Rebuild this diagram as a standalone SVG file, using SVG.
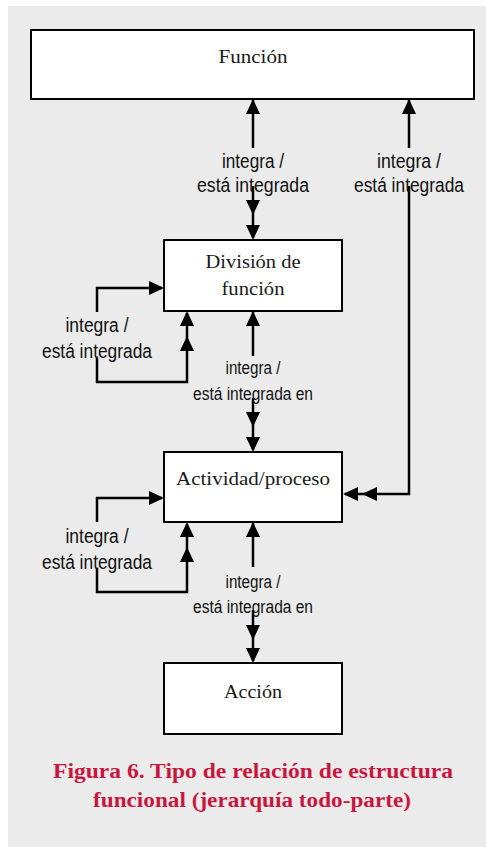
<svg xmlns="http://www.w3.org/2000/svg" width="486" height="847" viewBox="0 0 486 847">
<style>
.box{fill:#fff;stroke:#000;stroke-width:2}
.nt{font-family:"Liberation Serif",serif;font-size:19px;fill:#1a1a1a;text-anchor:middle}
.lbl{font-family:"Liberation Sans",Arial,sans-serif;font-size:20px;fill:#111;text-anchor:middle}
.lbs{font-family:"Liberation Sans",Arial,sans-serif;font-size:17.5px;fill:#111;text-anchor:middle}
.cn{fill:none;stroke:#000;stroke-width:2.5}
.cap{font-family:"Liberation Serif",serif;font-size:20px;font-weight:bold;fill:#c8173f;text-anchor:middle}
</style>
<defs>
<path id="ah" d="M0,0 L-7,15 L7,15 Z" fill="#000"/>
</defs>
<rect x="0" y="0" width="486" height="847" fill="#fff"/>
<rect x="8" y="6" width="478" height="841" fill="#ebebeb"/>

<g id="connectors">
<path class="cn" d="M253,100 V148 M253,186 V238"/>
<use href="#ah" transform="translate(253,99)"/>
<use href="#ah" transform="translate(253,215) rotate(180)"/>
<use href="#ah" transform="translate(253,240) rotate(180)"/>
<text class="lbl" x="253" y="168" textLength="62" lengthAdjust="spacingAndGlyphs">integra /</text>
<text class="lbl" x="253" y="192" textLength="112" lengthAdjust="spacingAndGlyphs">está integrada</text>

<path class="cn" d="M409,100 V148 M409,186 V494 H345"/>
<use href="#ah" transform="translate(409,99)"/>
<use href="#ah" transform="translate(343,494) rotate(-90)"/>
<use href="#ah" transform="translate(362,494) rotate(-90)"/>
<text class="lbl" x="409" y="168" textLength="64" lengthAdjust="spacingAndGlyphs">integra /</text>
<text class="lbl" x="409" y="192" textLength="110" lengthAdjust="spacingAndGlyphs">está integrada</text>

<path class="cn" d="M162,288 H97 V312 M97,358 V382 H187 V313"/>
<use href="#ah" transform="translate(164,288) rotate(90)"/>
<use href="#ah" transform="translate(187,311)"/>
<use href="#ah" transform="translate(187,336)"/>
<text class="lbl" x="97" y="332" textLength="63" lengthAdjust="spacingAndGlyphs">integra /</text>
<text class="lbl" x="97" y="358" textLength="110" lengthAdjust="spacingAndGlyphs">está integrada</text>

<path class="cn" d="M253,312 V356 M253,398 V450"/>
<use href="#ah" transform="translate(253,311)"/>
<use href="#ah" transform="translate(253,427) rotate(180)"/>
<use href="#ah" transform="translate(253,452) rotate(180)"/>
<text class="lbs" x="253" y="374" textLength="55" lengthAdjust="spacingAndGlyphs">integra /</text>
<text class="lbs" x="253" y="400" textLength="120" lengthAdjust="spacingAndGlyphs">está integrada en</text>

<path class="cn" d="M162,498 H97 V522 M97,568 V592 H187 V524"/>
<use href="#ah" transform="translate(164,498) rotate(90)"/>
<use href="#ah" transform="translate(187,522)"/>
<use href="#ah" transform="translate(187,547)"/>
<text class="lbl" x="97" y="543" textLength="63" lengthAdjust="spacingAndGlyphs">integra /</text>
<text class="lbl" x="97" y="569" textLength="110" lengthAdjust="spacingAndGlyphs">está integrada</text>

<path class="cn" d="M253,523 V567 M253,610 V661"/>
<use href="#ah" transform="translate(253,522)"/>
<use href="#ah" transform="translate(253,640) rotate(180)"/>
<use href="#ah" transform="translate(253,663) rotate(180)"/>
<text class="lbs" x="253" y="588" textLength="55" lengthAdjust="spacingAndGlyphs">integra /</text>
<text class="lbs" x="253" y="613" textLength="120" lengthAdjust="spacingAndGlyphs">está integrada en</text>
</g>

<g id="funcion">
<rect class="box" x="31" y="30" width="443" height="69"/>
<text class="nt" x="253" y="63" textLength="69" lengthAdjust="spacingAndGlyphs">Función</text>
</g>
<g id="division">
<rect class="box" x="164" y="240" width="178" height="71"/>
<text class="nt" x="253" y="268" textLength="95" lengthAdjust="spacingAndGlyphs">División de</text>
<text class="nt" x="253" y="295" textLength="63" lengthAdjust="spacingAndGlyphs">función</text>
</g>
<g id="actividad">
<rect class="box" x="164" y="452" width="178" height="70"/>
<text class="nt" x="253" y="485" textLength="154" lengthAdjust="spacingAndGlyphs">Actividad/proceso</text>
</g>
<g id="accion">
<rect class="box" x="164" y="663" width="178" height="71"/>
<text class="nt" x="253" y="698" textLength="58" lengthAdjust="spacingAndGlyphs">Acción</text>
</g>
<g id="caption">
<text class="cap" x="253" y="778" textLength="400" lengthAdjust="spacingAndGlyphs">Figura 6. Tipo de relación de estructura</text>
<text class="cap" x="252" y="807" textLength="318" lengthAdjust="spacingAndGlyphs">funcional (jerarquía todo-parte)</text>
</g>
</svg>
